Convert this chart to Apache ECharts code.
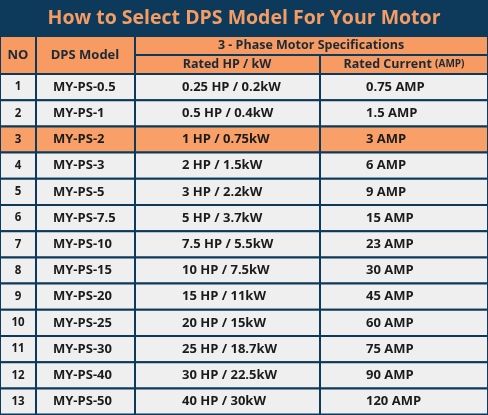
<!DOCTYPE html><html><head><meta charset="utf-8"><script src="https://cdn.jsdelivr.net/npm/echarts@6/dist/echarts.min.js"></script>
<style>html,body{margin:0;padding:0;background:#0d3a5a}#c{width:488px;height:415px}</style></head><body><div id="c"></div><script>
const title = 'How to Select DPS Model For Your Motor';
const nos = ['1','2','3','4','5','6','7','8','9','10','11','12','13'];
const models = ['MY-PS-0.5','MY-PS-1','MY-PS-2','MY-PS-3','MY-PS-5','MY-PS-7.5','MY-PS-10','MY-PS-15','MY-PS-20','MY-PS-25','MY-PS-30','MY-PS-40','MY-PS-50'];
const hp = ['0.25 HP / 0.2kW','0.5 HP / 0.4kW','1 HP / 0.75kW','2 HP / 1.5kW','3 HP / 2.2kW','5 HP / 3.7kW','7.5 HP / 5.5kW','10 HP / 7.5kW','15 HP / 11kW','20 HP / 15kW','25 HP / 18.7kW','30 HP / 22.5kW','40 HP / 30kW'];
const amps = ['0.75 AMP','1.5 AMP','3 AMP','6 AMP','9 AMP','15 AMP','23 AMP','30 AMP','45 AMP','60 AMP','75 AMP','90 AMP','120 AMP'];
const highlightRow = 2;

const cols = [0,36,135,320,488];
const top0 = 74, rowH = 26.2;
const NAVY = '#0d3a5a', ORANGE = '#f79b62', CELL = '#efefef', TXT = '#1b1b1b';
const FONT = '"Open Sans", sans-serif';

const chart = echarts.init(document.getElementById('c'));
function rect(api, x0, y0, x1, y1, fill) {
  const a = api.coord([x0, y0]), b = api.coord([x1, y1]);
  return {type:'rect', shape:{x:a[0], y:a[1], width:b[0]-a[0], height:b[1]-a[1]}, style:{fill:fill, stroke:NAVY, lineWidth:2}};
}
function txt(api, x, y, s, align, color, size, weight) {
  const p = api.coord([x, y]);
  return {type:'text', x:p[0], y:p[1], style:{text:s, fill:color||TXT, font:(weight||700)+' '+(size||13)+'px '+FONT, align:align||'left', verticalAlign:'middle'}};
}
const rowsData = nos.map((n,i)=>[i]);
chart.setOption({
  animation:false,
  grid:{left:0,right:0,top:0,bottom:0},
  xAxis:{type:'value',min:0,max:488,show:false},
  yAxis:{type:'value',min:0,max:415,inverse:true,show:false},
  series:[
    {type:'custom', data:[[0]], renderItem:(params, api)=>{
      const ch = [];
      ch.push({type:'rect', shape:{x:0,y:0,width:488,height:35}, style:{fill:NAVY}});
      ch.push(txt(api, 244, 18, title, 'center', '#f49c63', 19.5, 700));
      ch.push(rect(api, cols[0], 36, cols[1], 74, ORANGE));
      ch.push(rect(api, cols[1], 36, cols[2], 74, ORANGE));
      ch.push(rect(api, cols[2], 36, cols[4], 55, ORANGE));
      ch.push(rect(api, cols[2], 55, cols[3], 74, ORANGE));
      ch.push(rect(api, cols[3], 55, cols[4], 74, ORANGE));
      ch.push(txt(api, 18, 55, 'NO', 'center', '#1c2a38', 13));
      ch.push(txt(api, 85, 55, 'DPS Model', 'center', '#1c2a38', 13));
      ch.push(txt(api, 311, 45.5, '3 - Phase Motor Specifications', 'center', '#1c2a38', 12.5));
      ch.push(txt(api, 227, 64.5, 'Rated HP / kW', 'center', '#1c2a38', 12.5));
      ch.push({type:'text', x:api.coord([404,0])[0], y:api.coord([0,64.5])[1], style:{
        text:'{a|Rated Current }{b|(AMP)}', align:'center', verticalAlign:'middle',
        rich:{a:{font:'700 12.5px '+FONT, fill:'#1c2a38'}, b:{font:'700 10px '+FONT, fill:'#1c2a38'}}}});
      return {type:'group', children:ch};
    }, silent:true},
    {type:'custom', data:rowsData, renderItem:(params, api)=>{
      const i = api.value(0);
      const y0 = top0 + i*rowH, y1 = y0 + rowH, ym = (y0+y1)/2;
      const fill = i===highlightRow ? '#f9a068' : CELL;
      const ch = [];
      for (let c=0;c<4;c++) ch.push(rect(api, cols[c], y0, cols[c+1], y1, fill));
      ch.push(txt(api, 18, ym, nos[i], 'center', TXT, 11.5));
      ch.push(txt(api, 53, ym, models[i], 'left', TXT, 13));
      ch.push(txt(api, 182, ym, hp[i], 'left', TXT, 13));
      ch.push(txt(api, 366, ym, amps[i], 'left', TXT, 13));
      return {type:'group', children:ch};
    }, silent:true}
  ]
});
</script></body></html>
